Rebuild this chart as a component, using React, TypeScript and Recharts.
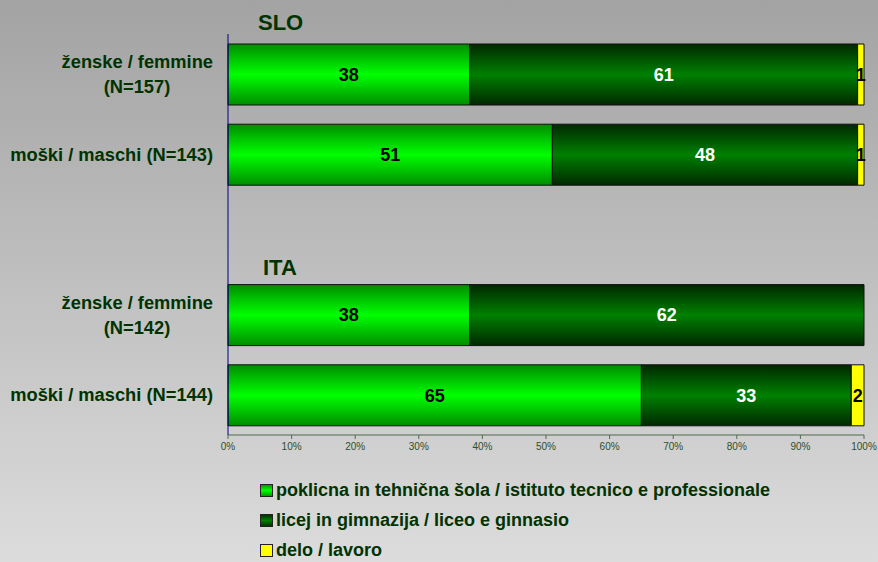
import { Bar, BarChart, LabelList, XAxis, YAxis } from "recharts";

const categories = [
  "ženske / femmine\n(N=157)",
  "moški / maschi (N=143)",
  " ",
  "ženske / femmine\n(N=142)",
  "moški / maschi (N=144)",
];
const poklicna = [38, 51, null, 38, 65];
const licej = [61, 48, null, 62, 33];
const delo = [1, 1, null, 0, 2];
const xTicks = [0, 10, 20, 30, 40, 50, 60, 70, 80, 90, 100];

const series = [
  { key: "poklicna", name: "poklicna in tehnična šola / istituto tecnico e professionale", fill: "url(#gLight)", swatch: "linear-gradient(#009a00, #00ff00, #009a00)", text: "#000" },
  { key: "licej", name: "licej in gimnazija / liceo e ginnasio", fill: "url(#gDark)", swatch: "linear-gradient(#003300, #008000, #003300)", text: "#fff" },
  { key: "delo", name: "delo / lavoro", fill: "#ffff00", swatch: "#ffff00", text: "#000" },
];

const data = categories.map((label, i) => ({
  label,
  poklicna: poklicna[i],
  licej: licej[i],
  delo: delo[i],
}));

const FONT = "Arial, 'Liberation Sans', sans-serif";
const DARK = "#003300";

function CategoryTick({ x, y, payload }: any) {
  const lines = String(payload.value).split("\n");
  const style = { fontFamily: FONT, fontWeight: 700, fontSize: 18.3, fill: DARK };
  if (lines.length === 1) {
    return (
      <text x={x} y={y} dy="0.35em" textAnchor="end" style={style}>
        {lines[0]}
      </text>
    );
  }
  return (
    <g>
      <text x={x} y={y - 12.5} dy="0.35em" textAnchor="end" style={style}>
        {lines[0]}
      </text>
      <text x={x - 76} y={y + 12.5} dy="0.35em" textAnchor="middle" style={style}>
        {lines[1]}
      </text>
    </g>
  );
}

const hideZero = (v: any) => (v ? v : "");

export default function App() {
  return (
    <div
      style={{
        position: "absolute",
        left: 0,
        top: 0,
        width: 878,
        height: 562,
        background: "linear-gradient(to bottom, #a3a3a3, #dcdcdc)",
        fontFamily: FONT,
      }}
    >
      <BarChart
        width={878}
        height={562}
        data={data}
        layout="vertical"
        barSize={61}
        margin={{ top: 34, right: 14, bottom: 107, left: 0 }}
      >
        <defs>
          <linearGradient id="gLight" x1="0" y1="0" x2="0" y2="1">
            <stop offset="0%" stopColor="#008c00" />
            <stop offset="50%" stopColor="#00ff00" />
            <stop offset="100%" stopColor="#008c00" />
          </linearGradient>
          <linearGradient id="gDark" x1="0" y1="0" x2="0" y2="1">
            <stop offset="0%" stopColor="#002800" />
            <stop offset="50%" stopColor="#008000" />
            <stop offset="100%" stopColor="#002800" />
          </linearGradient>
        </defs>
        <XAxis
          type="number"
          domain={[0, 100]}
          ticks={xTicks}
          tickFormatter={(v) => `${v}%`}
          height={20}
          tickSize={4}
          tickMargin={4}
          interval={0}
          axisLine={{ stroke: "#4f6b4f" }}
          tickLine={{ stroke: "#4f6b4f" }}
          tick={{ fill: "#2e4d2e", fontSize: 10, fontFamily: FONT }}
        />
        <YAxis
          type="category"
          dataKey="label"
          width={228}
          tickSize={0}
          tickMargin={15}
          interval={0}
          axisLine={{ stroke: "#000080" }}
          tickLine={false}
          tick={<CategoryTick />}
        />
        {series.map((s) => (
          <Bar
            key={s.key}
            dataKey={s.key}
            name={s.name}
            stackId="a"
            fill={s.fill}
            stroke="#111"
            strokeWidth={1}
            isAnimationActive={false}
          >
            <LabelList
              dataKey={s.key}
              position="center"
              formatter={hideZero}
              fill={s.text}
              style={{ fontFamily: FONT, fontWeight: 700, fontSize: 18, fill: s.text }}
            />
          </Bar>
        ))}
      </BarChart>
      <div style={{ position: "absolute", left: 258, top: 12, fontSize: 22, fontWeight: 700, color: DARK, lineHeight: "22px" }}>
        SLO
      </div>
      <div style={{ position: "absolute", left: 263, top: 257, fontSize: 22, fontWeight: 700, color: DARK, lineHeight: "22px" }}>
        ITA
      </div>
      <div style={{ position: "absolute", left: 260, top: 475 }}>
        {series.map((s) => (
          <div key={s.key} style={{ display: "flex", alignItems: "center", height: 30 }}>
            <span
              style={{
                display: "inline-block",
                width: 11,
                height: 11,
                background: s.swatch,
                border: "1px solid #222",
                marginRight: 3,
              }}
            />
            <span style={{ fontSize: 18, fontWeight: 700, color: DARK }}>{s.name}</span>
          </div>
        ))}
      </div>
    </div>
  );
}
